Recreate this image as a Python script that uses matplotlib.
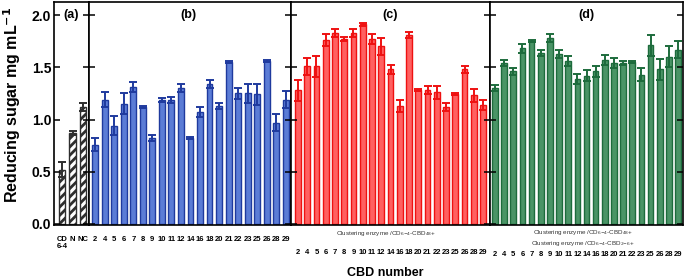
import numpy as np
import matplotlib
matplotlib.use("Agg")
import matplotlib.pyplot as plt

plt.rcParams['font.family'] = ['Liberation Sans', 'DejaVu Sans']
plt.rcParams['hatch.linewidth'] = 2.0

# ---- data ----
ctrl_labels = ["CD\n6-4", "N", "NC"]
ctrl_vals = [0.52, 0.87, 1.12]
ctrl_err = [0.07, 0.02, 0.04]

cbd_labels = ["2", "4", "5", "6", "7", "8", "9", "10", "11", "12", "14",
              "16", "18", "20", "21", "22", "23", "25", "26", "28", "29"]

b_vals = [0.76, 1.19, 0.94, 1.15, 1.31, 1.12, 0.82, 1.19, 1.19, 1.30, 0.82,
          1.07, 1.34, 1.13, 1.55, 1.25, 1.25, 1.24, 1.56, 0.97, 1.19]
b_err = [0.06, 0.07, 0.09, 0.10, 0.05, 0.01, 0.03, 0.02, 0.03, 0.04, 0.01,
         0.05, 0.04, 0.03, 0.01, 0.05, 0.09, 0.10, 0.01, 0.08, 0.08]

c_vals = [1.28, 1.51, 1.51, 1.76, 1.83, 1.77, 1.83, 1.91, 1.77, 1.70, 1.48,
          1.13, 1.81, 1.28, 1.28, 1.26, 1.12, 1.24, 1.48, 1.23, 1.14]
c_err = [0.10, 0.08, 0.10, 0.06, 0.04, 0.02, 0.04, 0.01, 0.05, 0.08, 0.04,
         0.06, 0.03, 0.01, 0.04, 0.06, 0.04, 0.01, 0.03, 0.06, 0.05]

d_vals = [1.30, 1.54, 1.46, 1.68, 1.75, 1.64, 1.78, 1.63, 1.56, 1.39, 1.42,
          1.46, 1.57, 1.54, 1.54, 1.55, 1.43, 1.71, 1.48, 1.60, 1.67]
d_err = [0.03, 0.03, 0.03, 0.04, 0.01, 0.03, 0.04, 0.04, 0.05, 0.05, 0.05,
         0.05, 0.05, 0.05, 0.02, 0.01, 0.06, 0.10, 0.10, 0.10, 0.08]

fig = plt.figure(figsize=(6.85, 2.78), dpi=100)
W, H = 685.0, 278.0
bot, top = 225, 2


def make_ax(x0, x1):
    return fig.add_axes([x0 / W, 1 - bot / H, (x1 - x0) / W, (bot - top) / H])


def style(ax, xlim, show_y=False):
    ax.set_ylim(-0.01, 2.125)
    ax.set_xlim(*xlim)
    ax.set_yticks([0, 0.5, 1.0, 1.5, 2.0])
    ax.tick_params(axis='y', direction='in', length=4, width=1.1,
                   left=True, right=True, labelleft=show_y, pad=2,
                   labelsize=10)
    ax.tick_params(axis='x', length=0, labelsize=5.5)
    for s in ax.spines.values():
        s.set_linewidth(1.2)
    if show_y:
        for t in ax.get_yticklabels():
            t.set_fontweight('bold')


def draw(ax, vals, err, face, edge):
    x = np.arange(len(vals))
    ax.bar(x, vals, width=0.62, color=face, edgecolor=edge, linewidth=1.0)
    ax.errorbar(x, vals, yerr=err, fmt='none', ecolor=edge, elinewidth=1.4,
                capsize=2.6, capthick=1.4)


# (a) controls
ax_a = make_ax(54, 89)
xa = np.arange(len(ctrl_vals))
ax_a.bar(xa, ctrl_vals, width=0.62, color='white', edgecolor='#2e2e2e',
         hatch='////', linewidth=1.0)
ax_a.errorbar(xa, ctrl_vals, yerr=ctrl_err, fmt='none', ecolor='#2e2e2e',
              elinewidth=1.4, capsize=2.6, capthick=1.4)
style(ax_a, (-0.78, 2.55), show_y=True)
ax_a.set_xticks(xa, ctrl_labels, fontsize=5.5, fontweight='bold',
                linespacing=1.0)
for t in ax_a.get_xticklabels():
    t.set_verticalalignment('top')
ax_a.tick_params(axis='x', pad=8)
ax_a.text(0.5, 0.97, "(a)", transform=ax_a.transAxes, ha='center', va='top',
          fontsize=9, fontweight='bold')

# (b)
ax_b = make_ax(89, 291)
draw(ax_b, b_vals, b_err, '#5b7cd6', '#1f3a9e')
style(ax_b, (-0.65, 20.55))
ax_b.set_xticks(np.arange(len(cbd_labels)), cbd_labels, fontweight='bold')
ax_b.tick_params(axis='x', pad=8)
ax_b.text(0.49, 0.97, "(b)", transform=ax_b.transAxes, ha='center', va='top',
          fontsize=9, fontweight='bold')

# (c)
ax_c = make_ax(291, 490)
draw(ax_c, c_vals, c_err, '#ff6060', '#ee1111')
style(ax_c, (-0.75, 20.75))
ax_c.set_xticks(np.arange(len(cbd_labels)), cbd_labels, fontweight='bold')
ax_c.tick_params(axis='x', pad=17)
ax_c.text(0.5, 0.97, "(c)", transform=ax_c.transAxes, ha='center', va='top',
          fontsize=9, fontweight='bold')
ax_c.text(0.48, -0.02, r"Clustering enzyme /CD$_{6\mathsf{-}4}$-CBD$_{48}$+",
          transform=ax_c.transAxes, ha='center', va='top', fontsize=4.5,
          color='#333333')

# (d)
ax_d = make_ax(490, 683)
draw(ax_d, d_vals, d_err, '#4a9466', '#1d6b3c')
style(ax_d, (-0.55, 20.55))
ax_d.set_xticks(np.arange(len(cbd_labels)), cbd_labels, fontweight='bold')
ax_d.tick_params(axis='x', pad=19)
ax_d.text(0.5, 0.97, "(d)", transform=ax_d.transAxes, ha='center', va='top',
          fontsize=9, fontweight='bold')
ax_d.text(0.48, -0.015, r"Clustering enzyme /CD$_{6\mathsf{-}4}$-CBD$_{48}$+",
          transform=ax_d.transAxes, ha='center', va='top', fontsize=4.5,
          color='#333333')
ax_d.text(0.48, -0.065, r"Clustering enzyme /CD$_{6\mathsf{-}4}$-CBD$_{2\mathsf{-}6}$+",
          transform=ax_d.transAxes, ha='center', va='top', fontsize=4.5,
          color='#333333')

fig.text(12 / W, 1 - 203 / H, r"Reducing sugar mg mL$^{\mathbf{-1}}$",
         rotation=90, ha='center', va='bottom', fontsize=11.5, fontweight='bold')
fig.text(385 / W, 1 - 273 / H, "CBD number", ha='center', va='center',
         fontsize=9, fontweight='bold')

fig.savefig("out.png", dpi=100)
